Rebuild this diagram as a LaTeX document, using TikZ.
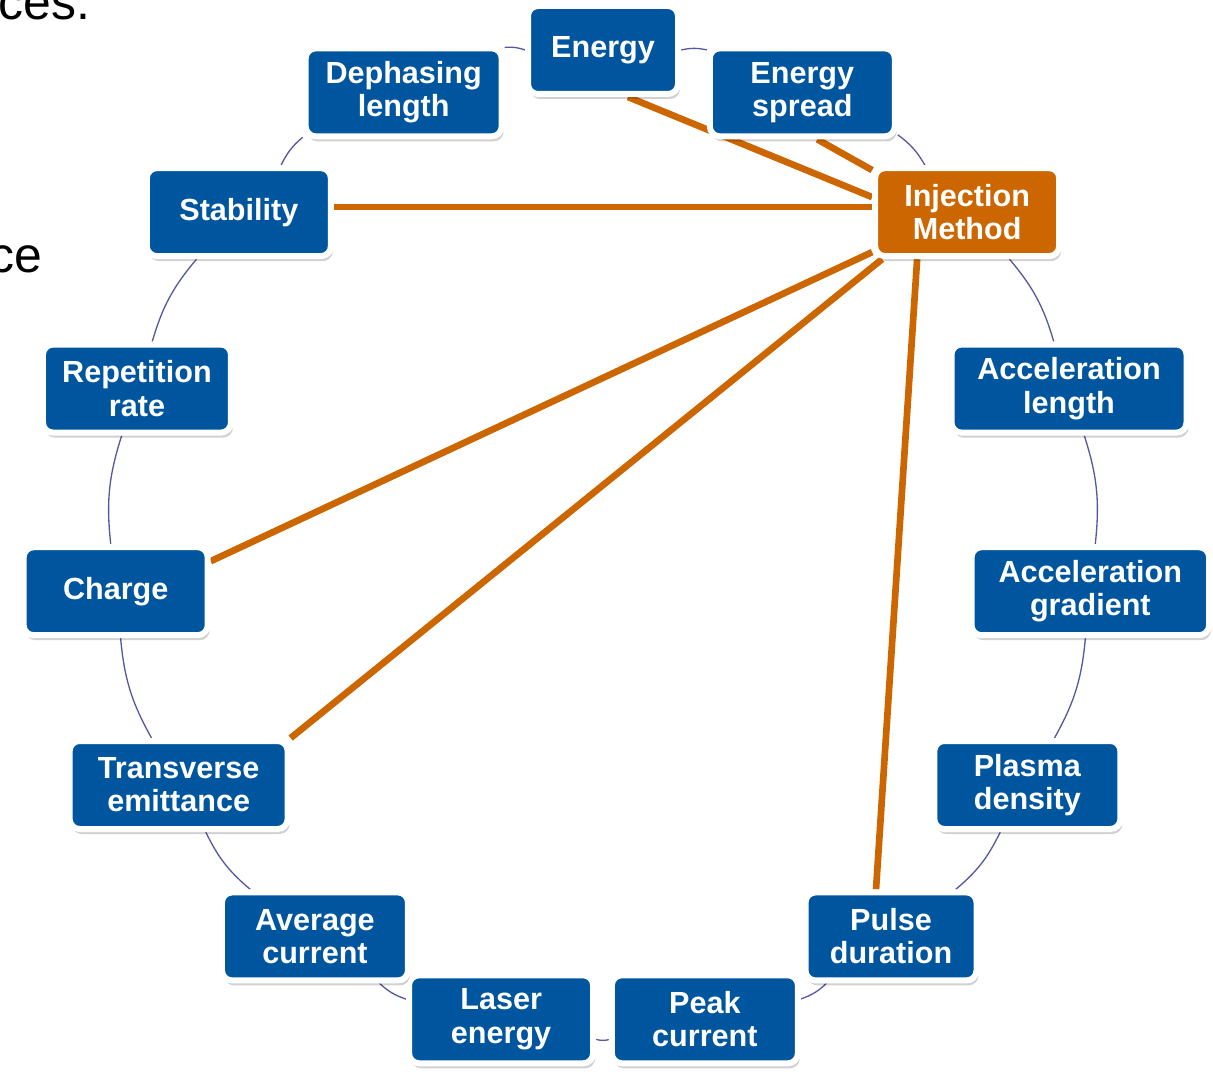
\documentclass[tikz,border=0pt]{standalone}
\usepackage{fontspec}
\setmainfont{Liberation Sans}
\usetikzlibrary{backgrounds,shadows}
\definecolor{nodeblue}{RGB}{0,86,158}
\definecolor{injorange}{RGB}{204,102,0}
\definecolor{ringblue}{RGB}{88,88,160}
\tikzset{
  box/.style={rectangle, rounded corners=0.2cm, draw=white, line width=0.12cm,
    text=white, align=center, inner sep=0pt, minimum height=1.76cm,
    font=\bfseries\fontsize{17.4}{18.9}\selectfont,
    drop shadow={shadow xshift=0.04cm, shadow yshift=-0.1cm, fill=black, opacity=0.18}},
  ring/.style={draw=ringblue, line width=0.75pt},
  link/.style={draw=injorange, line width=3.8pt},
  frag/.style={anchor=base west, inner sep=0pt, font=\fontsize{28.4}{34}\selectfont}
}
\begin{document}
\begin{tikzpicture}
   \useasboundingbox (-12.06,-10.68) rectangle (12.2,10.8);
   \clip (-12.06,-10.68) rectangle (12.2,10.8);

   \node[frag] (txa) at (-12.1,10.4) {ces.};
   \node[frag] (txb) at (-12.28,5.34) {ce};

   \foreach \a/\t/\l/\w/\c in {90/E/Energy/3.0/nodeblue, 66/ES/{Energy\\spread}/3.7/nodeblue,
       42/IM/{Injection\\Method}/3.68/injorange, 18/AL/{Acceleration\\length}/4.7/nodeblue,
       -6/AG/{Acceleration\\gradient}/4.75/nodeblue, -30/PD/{Plasma\\density}/3.72/nodeblue,
       -54/PU/{Pulse\\duration}/3.42/nodeblue, -78/PC/{Peak\\current}/3.72/nodeblue,
       -102/LE/{Laser\\energy}/3.68/nodeblue, -126/AC/{Average\\current}/3.72/nodeblue,
       -150/TE/{Transverse\\emittance}/4.36/nodeblue, -174/CH/Charge/3.68/nodeblue,
       162/RR/{Repetition\\rate}/3.76/nodeblue, 138/ST/Stability/3.68/nodeblue,
       114/DL/{Dephasing\\length}/3.92/nodeblue}
     \node[box, fill=\c, minimum width=\w cm] (v\t) at (\a:9.8) {\l};

   \begin{scope}[on background layer]
     \foreach \i/\j in {E/ES, ES/IM, IM/AL, AL/AG, AG/PD, PD/PU, PU/PC, PC/LE,
         LE/AC, AC/TE, TE/CH, CH/RR, RR/ST, ST/DL, DL/E}
       \draw[ring] (v\i) to[bend left=12] (v\j);

     \draw[link] ([xshift=0.5cm]vE.south) -- ([yshift=0.3cm]vIM.west);
     \draw[link] ([xshift=0.3cm]vES.south) -- ([yshift=-0.1cm]vIM.north west);
     \draw[link] ([yshift=0.1cm]vST.east) -- ([yshift=0.1cm]vIM.west);
     \draw[link] ([yshift=0.6cm]vCH.east) -- ([yshift=-0.8cm]vIM.west);
     \draw[link] (vTE.north east) -- ([xshift=0.2cm]vIM.south west);
     \draw[link] ([xshift=-0.3cm]vPU.north) -- ([xshift=-1cm]vIM.south);
   \end{scope}
\end{tikzpicture}
\end{document}
